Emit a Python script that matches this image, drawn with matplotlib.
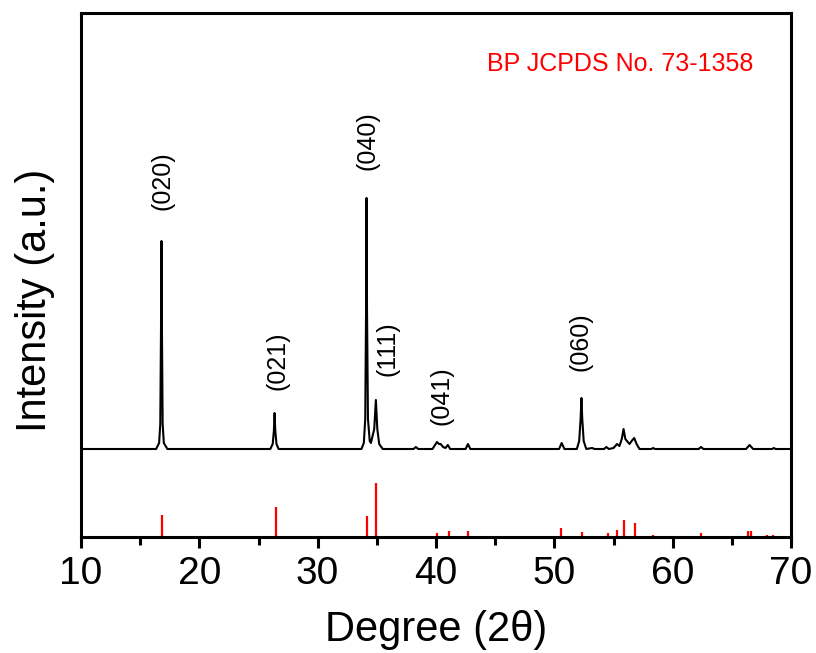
import numpy as np
import matplotlib
matplotlib.use('Agg')
import matplotlib.pyplot as plt

plt.rcParams['font.family'] = ['Liberation Sans', 'DejaVu Sans']

# Measured XRD pattern (2theta, intensity above baseline, a.u.)
xrd_2theta = [10.0, 16.35, 16.6, 16.7, 16.76, 16.80, 16.84, 16.9, 17.0, 17.3,
              26.0, 26.2, 26.3, 26.36, 26.42, 26.52, 26.7,
              33.7, 33.9, 34.02, 34.09, 34.13, 34.17, 34.25, 34.4, 34.5,
              34.78, 34.92, 35.04, 35.2, 35.5,
              38.1, 38.3, 38.5, 39.7, 40.08, 40.25, 40.4, 40.6, 40.8, 41.0, 41.2,
              42.5, 42.7, 42.9, 50.4, 50.62, 50.85,
              51.9, 52.1, 52.22, 52.29, 52.36, 52.48, 52.7, 53.2, 53.4,
              54.2, 54.4, 54.6, 55.0, 55.3, 55.5, 55.7, 55.85, 56.0, 56.35,
              56.6, 56.75, 56.95, 57.2, 58.2, 58.35, 58.5,
              62.2, 62.4, 62.6, 66.2, 66.5, 66.8, 68.4, 68.55, 68.7, 70.0]
xrd_int = [0, 0, 6, 25, 120, 208, 120, 25, 6, 0,
           0, 5, 18, 36, 18, 5, 0,
           0, 6, 30, 140, 251, 140, 30, 8, 6,
           20, 49, 20, 5, 0,
           0, 2, 0, 0, 7, 5, 5, 2, 1, 4, 0,
           0, 5, 0, 0, 6, 0,
           0, 8, 30, 51, 30, 8, 0, 1, 0,
           0, 2, 0, 1, 5, 3, 10, 20, 10, 5,
           9, 11, 5, 0, 0, 1, 0,
           0, 2, 0, 0, 4, 0, 0, 1, 0, 0]
xrd_offset = 88

# Reference pattern BP JCPDS No. 73-1358 (2theta, relative intensity %)
ref_2theta = [16.85, 26.45, 34.15, 34.95, 40.1, 41.1, 42.7, 44.8, 50.6, 52.3,
              54.5, 55.3, 55.9, 56.8, 58.3, 62.4, 66.4, 66.6, 68.0, 68.5]
ref_int = [40, 55, 39, 100, 7, 11, 11, 2, 17, 10,
           7, 13, 31, 26, 4, 8, 11, 11, 3, 3]
ref_scale = 0.54

# hkl labels: (text, 2theta, y position)
hkl_labels = ['(020)', '(021)', '(040)', '(111)', '(041)', '(060)']
hkl_x = [16.85, 26.6, 34.2, 35.9, 40.5, 52.25]
hkl_y = [356, 176, 396, 188, 141, 195]

fig = plt.figure(figsize=(8.16, 6.53), dpi=100)
ax = fig.add_axes([81 / 816, 116 / 653, 710 / 816, 524 / 653])

ax.plot(xrd_2theta, np.array(xrd_int) + xrd_offset, color='black', lw=1.5)
ax.vlines(ref_2theta, 0, np.array(ref_int) * ref_scale, color='red', lw=1.6)

for lab, x, y in zip(hkl_labels, hkl_x, hkl_y):
    ax.text(x, y, lab, rotation=90, ha='center', va='center', fontsize=18)

ax.text(0.759, 0.903, 'BP JCPDS No. 73-1358', transform=ax.transAxes,
        color='red', fontsize=18, ha='center', va='center')

ax.set_xlim(10, 70)
ax.set_ylim(0, 524)
ax.set_xticks(range(10, 71, 10))
ax.set_xticks(range(15, 70, 10), minor=True)
ax.set_yticks([])
ax.tick_params(axis='x', which='major', direction='out', length=8, width=2.2,
               labelsize=28, pad=6)
ax.tick_params(axis='x', which='minor', direction='out', length=5.5, width=2.2)
for sp in ax.spines.values():
    sp.set_linewidth(2.2)

ax.set_xlabel('Degree (2θ)', fontsize=30, labelpad=13)
ax.set_ylabel('Intensity (a.u.)', fontsize=30)
ax.yaxis.set_label_coords(-0.037, 0.452)

fig.savefig('out.png', dpi=100)
